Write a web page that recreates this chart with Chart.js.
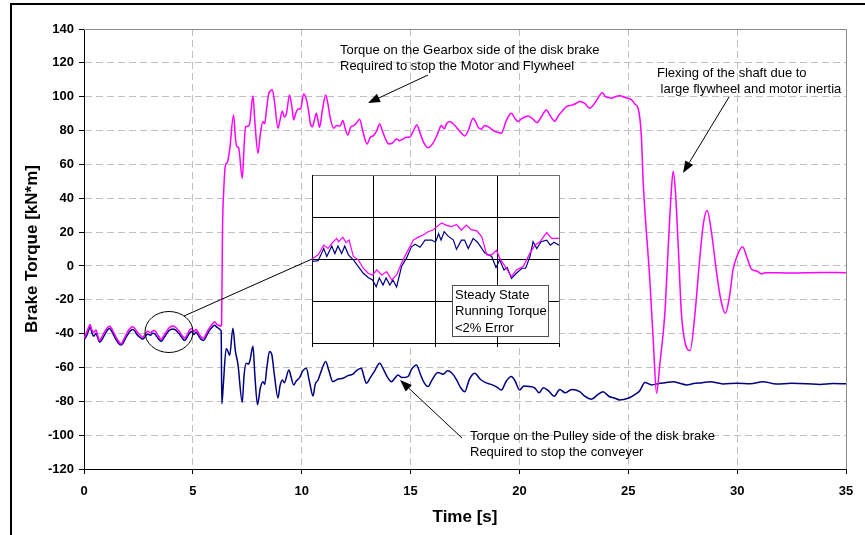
<!DOCTYPE html>
<html>
<head>
<meta charset="utf-8">
<title>Brake Torque</title>
<script src="https://cdn.jsdelivr.net/npm/chart.js@4.4.3/dist/chart.umd.min.js"></script>
<style>
  html, body { margin: 0; padding: 0; background: #fff; }
  #wrap { position: relative; width: 865px; height: 535px; overflow: hidden; }
  #wrap canvas { position: absolute; left: 0; top: 0; }
</style>
</head>
<body>
<div id="wrap">
  <canvas id="main" width="865" height="535"></canvas>
  <canvas id="inset" width="865" height="535"></canvas>
</div>
<script>
  const FONT = "Arial, 'Liberation Sans', sans-serif";
  const MAGENTA = "#ff00ff";
  const NAVY = "#000080";

  /* ── Brake test traces (time in s, torque in kN*m) ───────────────────── */
  const gearboxTime = [
    0, 0.1, 0.2, 0.28, 0.35, 0.45, 0.55, 0.62, 0.71, 0.8,
    0.9, 1.0, 1.08, 1.17, 1.27, 1.37, 1.47, 1.57, 1.71, 1.8,
    1.9, 2.0, 2.1, 2.24, 2.35, 2.45, 2.55, 2.7, 2.8, 2.93,
    3.05, 3.15, 3.24, 3.35, 3.45, 3.55, 3.65, 3.75, 3.85, 3.95,
    4.08, 4.2, 4.3, 4.4, 4.5, 4.62, 4.72, 4.82, 4.93, 5.05,
    5.15, 5.25, 5.35, 5.49, 5.6, 5.7, 5.8, 5.9, 6.0, 6.1,
    6.2, 6.28,
    6.32, 6.36, 6.42, 6.5, 6.58, 6.69, 6.87, 6.96, 7.02, 7.1,
    7.27, 7.35, 7.42, 7.55, 7.62, 7.76, 7.85, 7.99, 8.1, 8.22,
    8.3, 8.38, 8.49, 8.65, 8.75, 8.91, 9.0, 9.11, 9.2, 9.3,
    9.44, 9.55, 9.63, 9.72, 9.82, 9.95, 10.09, 10.2, 10.3, 10.4,
    10.49, 10.58, 10.67, 10.75, 10.82, 10.95, 11.1, 11.2, 11.3, 11.47,
    11.6, 11.75, 11.89, 12.0, 12.12, 12.25, 12.4, 12.55, 12.66, 12.8,
    13.0, 13.15, 13.3, 13.45, 13.58, 13.7, 13.85, 14.0, 14.19, 14.35,
    14.5, 14.65, 14.81, 14.96, 15.1, 15.29, 15.45, 15.6, 15.8, 16.0,
    16.19, 16.3, 16.41, 16.55, 16.65, 16.8, 16.95, 17.1, 17.3, 17.49,
    17.65, 17.87, 18.0, 18.1, 18.25, 18.4, 18.6, 18.8, 19.0, 19.17,
    19.4, 19.63, 19.8, 19.94, 20.1, 20.4, 20.6, 20.81, 21.0, 21.24,
    21.4, 21.62, 21.8, 22.0, 22.16, 22.4, 22.6, 22.77, 23.0, 23.23,
    23.5, 23.81, 23.95, 24.1, 24.23, 24.4, 24.61, 24.85, 25.07, 25.2,
    25.3, 25.45, 25.55, 25.61, 25.68, 25.76, 25.99, 26.15, 26.3, 26.45,
    26.68, 26.85, 26.98, 27.06, 27.16, 27.3, 27.44, 27.62, 27.84, 28.05,
    28.25, 28.45, 28.62, 28.82, 29.05, 29.25, 29.46, 29.65, 29.81, 30.0,
    30.25, 30.45, 30.66, 30.9, 31.12, 31.3, 32.5, 33.8, 35
  ];
  const gearboxTorque = [
    -42.7, -40, -36.5, -34.6, -37.5, -39.4, -37.8, -40.5, -44.1, -42.5,
    -40, -37.8, -36.5, -35.6, -37, -39.5, -42, -44.2, -46.1, -44,
    -41.5, -39, -37.2, -36, -37.3, -39.2, -40.5, -42.1, -40.5, -38.6,
    -39.5, -38.5, -38.2, -40, -42, -43.3, -41.5, -39.5, -37.5, -36.2,
    -35.5, -36.2, -37.5, -39, -41, -42.7, -41, -38.5, -37, -38.8,
    -37.5, -39.5, -41.5, -42.7, -40.5, -38, -36, -34.2, -33, -34.5,
    -35.2, -35.5,
    -35, 20, 45, 59.7, 61, 68.6, 89.2, 75, 70.5, 70,
    51.8, 70, 82.3, 82.6, 85, 100.5, 85, 66.6, 78, 85.3,
    84, 92, 102, 104, 97, 81.4, 86, 91.6, 88, 90,
    101, 94, 86.3, 90, 92.6, 93, 101.6, 99, 93, 84,
    82.3, 86, 90.2, 86, 81.9, 92, 101, 96, 88, 81.4,
    83, 82.5, 85.9, 81, 77.4, 82, 83, 85, 86.7, 80,
    72.1, 76, 77, 80, 83.9, 80, 75, 72, 72.9, 75,
    74, 75, 76, 76, 79, 83.3, 78, 73, 69.9, 72,
    76.5, 80, 83, 81, 84, 85.3, 84, 82, 79, 76.8,
    80, 87.3, 85, 82, 80.8, 83, 82, 80, 79, 78.4,
    86, 90.2, 87, 85.3, 87, 88.6, 87, 84.7, 88, 92.2,
    89, 85.5, 89, 92, 94.1, 95, 96, 97.1, 96, 93.2,
    97, 102.4, 100, 99.5, 99.1, 100, 100.5, 99.5, 98.8, 97.5,
    95.7, 93.2, 85, 74.5, 50.8, 33.1, -8.3, -45, -75.2, -58,
    -28, 15, 45, 56, 45, 10, -28, -46, -50, -30,
    -0.4, 25, 32.7, 20, -3.4, -20, -28, -18, -2.4, 6,
    11.4, 5, -2, -3, -4.7, -4, -4.2, -3.9, -4
  ];

  const pulleyTime = [
    0, 0.1, 0.2, 0.28, 0.35, 0.45, 0.55, 0.62, 0.71, 0.8,
    0.9, 1.0, 1.08, 1.17, 1.27, 1.37, 1.47, 1.57, 1.71, 1.8,
    1.9, 2.0, 2.1, 2.24, 2.35, 2.45, 2.55, 2.7, 2.8, 2.93,
    3.05, 3.15, 3.24, 3.35, 3.45, 3.55, 3.65, 3.75, 3.85, 3.95,
    4.08, 4.2, 4.3, 4.4, 4.5, 4.62, 4.72, 4.82, 4.93, 5.05,
    5.15, 5.25, 5.35, 5.49, 5.6, 5.7, 5.8, 5.9, 6.0, 6.1,
    6.2, 6.28,
    6.3, 6.33, 6.4, 6.53, 6.6, 6.69, 6.84, 6.95, 7.07, 7.27,
    7.35, 7.45, 7.55, 7.62, 7.76, 7.85, 7.97, 8.1, 8.22, 8.3,
    8.4, 8.52, 8.62, 8.75, 8.91, 9.0, 9.11, 9.2, 9.41, 9.5,
    9.63, 9.75, 9.9, 10.05, 10.21, 10.35, 10.52, 10.62, 10.75, 10.9,
    11.1, 11.25, 11.43, 11.65, 11.89, 12.1, 12.35, 12.5, 12.74, 12.85,
    12.97, 13.15, 13.35, 13.58, 13.75, 13.95, 14.12, 14.3, 14.42, 14.6,
    14.88, 15.05, 15.27, 15.45, 15.62, 15.8, 16.0, 16.26, 16.5, 16.7,
    16.87, 17.1, 17.3, 17.49, 17.7, 17.95, 18.2, 18.45, 18.7, 18.95,
    19.17, 19.4, 19.63, 19.8, 20.01, 20.2, 20.47, 20.7, 20.9, 21.1,
    21.35, 21.6, 21.85, 22.1, 22.4, 22.77, 23.0, 23.31, 23.6, 23.84,
    24.1, 24.35, 24.61, 24.99, 25.3, 25.53, 25.76, 26.07, 26.4, 26.7,
    27.06, 27.4, 27.67, 28.0, 28.4, 28.75, 29.36, 30.0, 30.6, 31.19,
    31.8, 32.5, 33.2, 33.8, 34.4, 35
  ];
  const pulleyTorque = [
    -43.5, -41.8, -38.5, -36, -39, -41.5, -39.8, -42, -45, -44,
    -41.8, -39.5, -37.8, -37, -38.5, -41, -43.5, -45.5, -46.8, -45.5,
    -43, -40.8, -38.8, -37.5, -38.8, -40.8, -42, -43.2, -42, -40.2,
    -41, -39.8, -40, -41.8, -43.5, -44.5, -43, -41, -39, -37.8,
    -37.2, -37.8, -39, -40.5, -42.5, -44, -42.5, -40.2, -38.8, -40.5,
    -39.2, -41, -43, -44, -42, -39.5, -37.5, -36, -35, -36.2,
    -37, -38,
    -38.5, -81.5, -70, -49, -50, -53, -36.8, -50, -58, -80.5,
    -65, -57.5, -58, -56, -47.5, -65, -82, -72, -68.4, -70,
    -60, -50.6, -52, -65, -78, -71, -67.4, -69, -61.5, -65,
    -70.3, -68, -66, -62, -60.5, -68, -76.8, -70, -67.4, -62,
    -56.5, -62, -68.4, -67, -66.4, -65, -64, -62, -60.5, -65,
    -69.3, -66, -62, -57.5, -61, -66, -68.4, -66, -64.4, -66,
    -65.4, -61, -58.5, -64, -69, -71.3, -67, -63, -64, -62,
    -63, -67, -72, -74.3, -67, -63.4, -67, -69, -70, -71.5,
    -73.3, -68, -65.4, -68, -73.3, -71, -71.3, -72, -75, -72,
    -74, -77, -73, -75, -73, -74.3, -77, -78.8, -76, -74.3,
    -77, -78, -79.2, -78.2, -76, -73.7, -68.9, -70.3, -69.5, -69,
    -68.4, -69.5, -70.3, -69.5, -69, -68.4, -69.7, -69.3, -69.6, -68.4,
    -69.8, -69.4, -69.6, -70, -69.5, -69.6
  ];

  const timeTicks = [0, 5, 10, 15, 20, 25, 30, 35];
  const torqueTicks = [-120, -100, -80, -60, -40, -20, 0, 20, 40, 60, 80, 100, 120, 140];

  /* ── Close-up of the steady-state section (grid units) ───────────────── */
  const insetGearboxX = [
    0, 0.1, 0.19, 0.26, 0.32, 0.4, 0.43, 0.5, 0.55, 0.6,
    0.67, 0.75, 0.83, 0.91, 0.98, 1.05, 1.13, 1.21, 1.29, 1.37,
    1.45, 1.53, 1.64, 1.72, 1.8, 1.88, 1.96, 2.02, 2.1, 2.18,
    2.26, 2.34, 2.42, 2.5, 2.58, 2.67, 2.75, 2.83, 2.91, 2.99,
    3.04, 3.13, 3.23, 3.31, 3.42, 3.53, 3.61, 3.69, 3.8, 3.88, 4.0
  ];
  const insetGearboxY = [
    0, 0.1, 0.33, 0.25, 0.37, 0.49, 0.41, 0.52, 0.39, 0.45,
    0.06, -0.02, -0.22, -0.34, -0.38, -0.26, -0.38, -0.3, -0.5, -0.38,
    -0.1, 0.14, 0.45, 0.52, 0.57, 0.65, 0.69, 0.77, 0.86, 0.8,
    0.77, 0.82, 0.69, 0.81, 0.7, 0.67, 0.53, 0.1, 0.1, 0.21,
    0.02, -0.18, -0.42, -0.26, -0.18, 0.14, 0.33, 0.41, 0.63, 0.49, 0.49
  ];
  const insetPulleyX = [
    0, 0.1, 0.19, 0.24, 0.32, 0.37, 0.42, 0.48, 0.53, 0.59,
    0.67, 0.75, 0.83, 0.91, 0.98, 1.04, 1.09, 1.15, 1.2, 1.26,
    1.31, 1.37, 1.45, 1.53, 1.61, 1.67, 1.75, 1.83, 1.94, 2.0,
    2.05, 2.09, 2.14, 2.2, 2.29, 2.34, 2.42, 2.47, 2.53, 2.61,
    2.68, 2.8, 2.91, 2.98, 3.04, 3.11, 3.16, 3.23, 3.31, 3.4,
    3.46, 3.53, 3.58, 3.64, 3.71, 3.8, 3.86, 3.92, 4.0
  ];
  const insetPulleyY = [
    -0.06, -0.04, 0.25, 0.06, 0.31, 0.13, 0.31, 0.13, 0.31, 0.1,
    -0.02, -0.18, -0.34, -0.44, -0.5, -0.66, -0.45, -0.62, -0.45, -0.62,
    -0.5, -0.67, -0.18, 0.02, 0.29, 0.35, 0.28, 0.45, 0.45, 0.4,
    0.6, 0.45, 0.65, 0.55, 0.45, 0.23, 0.45, 0.45, 0.25, 0.49,
    0.4, 0.14, 0.06, -0.2, -0.02, -0.26, -0.2, -0.46, -0.34, -0.22,
    -0.22, 0.06, 0.41, 0.25, 0.41, 0.45, 0.33, 0.4, 0.33
  ];
  const insetCols = [0, 1, 2, 3, 4];
  const insetRows = [-2, -1, 0, 1, 2];

  /* ── Callouts drawn over the plot ────────────────────────────────────── */
  const notes = [
    { lines: ["Torque on the Gearbox side of the disk brake",
              "Required to stop the Motor and Flywheel"], x: 340, y: 50,
      arrow: [428, 75, 368, 103] },
    { lines: ["Flexing of the shaft due to",
              " large flywheel and motor inertia"], x: 657, y: 73,
      arrow: [729, 97, 683, 173] },
    { lines: ["Torque on the Pulley side of the disk brake",
              "Required to stop the conveyer"], x: 470, y: 436,
      arrow: [462, 438, 400, 380] }
  ];
  const boxLines = ["Steady State", "Running Torque", "<2% Error"];

  const points = (xs, ys) => xs.map((x, i) => ({ x, y: ys[i] }));

  function drawArrow(ctx, x1, y1, x2, y2) {
    const ang = Math.atan2(y2 - y1, x2 - x1);
    const len = 12, half = 4.5;
    const bx = x2 - len * Math.cos(ang);
    const by = y2 - len * Math.sin(ang);
    ctx.beginPath();
    ctx.moveTo(x1, y1);
    ctx.lineTo(bx, by);
    ctx.stroke();
    ctx.beginPath();
    ctx.moveTo(x2, y2);
    ctx.lineTo(bx + half * Math.sin(ang), by - half * Math.cos(ang));
    ctx.lineTo(bx - half * Math.sin(ang), by + half * Math.cos(ang));
    ctx.closePath();
    ctx.fill();
  }

  const mainDecor = {
    id: "mainDecor",
    beforeDraw(chart) {
      const ctx = chart.ctx;
      ctx.save();
      ctx.fillStyle = "#fff";
      ctx.fillRect(0, 0, chart.width, chart.height);
      // outer frame (open to the right and bottom)
      ctx.fillStyle = "#000";
      ctx.fillRect(10, 3, chart.width - 10, 2);
      ctx.fillRect(10, 3, 2, chart.height - 3);
      ctx.restore();
    },
    beforeDatasetsDraw(chart) {
      const { ctx, chartArea: a } = chart;
      ctx.save();
      ctx.strokeStyle = "#8a8a8a";
      ctx.lineWidth = 1;
      ctx.beginPath();
      ctx.moveTo(a.left, a.top + 0.5);
      ctx.lineTo(a.right + 0.5, a.top + 0.5);
      ctx.lineTo(a.right + 0.5, a.bottom);
      ctx.stroke();
      ctx.restore();
    },
    afterDraw(chart) {
      const ctx = chart.ctx;
      ctx.save();
      ctx.strokeStyle = "#000";
      ctx.fillStyle = "#000";
      ctx.lineWidth = 1;
      ctx.font = "13px " + FONT;
      ctx.textBaseline = "middle";
      notes.forEach((n) => {
        n.lines.forEach((t, i) => ctx.fillText(t, n.x, n.y + i * 16.7));
        drawArrow(ctx, ...n.arrow);
      });
      // ring around the steady-state section and its leader to the close-up
      ctx.beginPath();
      ctx.ellipse(169, 332, 24, 20.5, 0, 0, Math.PI * 2);
      ctx.stroke();
      ctx.beginPath();
      ctx.moveTo(184, 316);
      ctx.lineTo(312, 259);
      ctx.stroke();
      ctx.restore();
    }
  };

  new Chart(document.getElementById("main"), {
    type: "line",
    data: {
      datasets: [
        { label: "Gearbox side", data: points(gearboxTime, gearboxTorque),
          borderColor: MAGENTA, borderWidth: 1.5, cubicInterpolationMode: "monotone" },
        { label: "Pulley side", data: points(pulleyTime, pulleyTorque),
          borderColor: NAVY, borderWidth: 1.5, cubicInterpolationMode: "monotone" }
      ]
    },
    options: {
      responsive: false,
      animation: false,
      events: [],
      layout: { padding: { left: 0, top: 29, right: 19, bottom: 0 } },
      elements: { point: { radius: 0 } },
      plugins: { legend: { display: false }, tooltip: { enabled: false } },
      scales: {
        x: {
          type: "linear", min: 0, max: 35,
          afterBuildTicks: (s) => { s.ticks = timeTicks.map((v) => ({ value: v })); },
          afterFit: (s) => { s.height = 66; },
          ticks: { color: "#000", padding: 10, maxRotation: 0,
                   font: { family: FONT, size: 13, weight: "bold" } },
          grid: { color: "#c0c0c0", tickColor: "#000", tickLength: 5, tickBorderDash: [1, 0] },
          border: { color: "#000", dash: [7, 4] },
          title: { display: true, text: "Time [s]", color: "#000",
                   font: { family: FONT, size: 17, weight: "bold" },
                   padding: { top: 0, bottom: 7 } }
        },
        y: {
          type: "linear", min: -120, max: 140,
          afterBuildTicks: (s) => { s.ticks = torqueTicks.map((v) => ({ value: v })); },
          afterFit: (s) => { s.width = 84; },
          ticks: { color: "#000", padding: 5,
                   font: { family: FONT, size: 13, weight: "bold" } },
          grid: { color: "#c0c0c0", tickColor: "#000", tickLength: 5, tickBorderDash: [1, 0] },
          border: { color: "#000", dash: [7, 4] },
          title: { display: true, text: "Brake Torque [kN*m]", color: "#000",
                   font: { family: FONT, size: 17, weight: "bold" },
                   padding: { top: 22, bottom: 0 } }
        }
      }
    },
    plugins: [mainDecor]
  });

  /* ── Close-up panel ──────────────────────────────────────────────────── */
  const insetDecor = {
    id: "insetDecor",
    beforeDraw(chart) {
      const { ctx, chartArea: a } = chart;
      ctx.save();
      ctx.fillStyle = "#fff";
      ctx.fillRect(a.left, a.top, a.right - a.left, a.bottom - a.top);
      ctx.restore();
    },
    afterDraw(chart) {
      const ctx = chart.ctx;
      ctx.save();
      ctx.fillStyle = "#fff";
      ctx.fillRect(452, 285, 97, 52);
      ctx.strokeStyle = "#505050";
      ctx.lineWidth = 1;
      ctx.strokeRect(452.5, 285.5, 96, 51);
      ctx.fillStyle = "#000";
      ctx.font = "13px " + FONT;
      ctx.textBaseline = "middle";
      boxLines.forEach((t, i) => ctx.fillText(t, 455, 295 + i * 16.7));
      ctx.restore();
    }
  };

  const edgeColor = (last) => (c) => (c.tick && c.tick.value === last ? "#707070" : "#000");

  new Chart(document.getElementById("inset"), {
    type: "line",
    data: {
      datasets: [
        { data: points(insetGearboxX, insetGearboxY), borderColor: MAGENTA, borderWidth: 1.2 },
        { data: points(insetPulleyX, insetPulleyY), borderColor: NAVY, borderWidth: 1.2 }
      ]
    },
    options: {
      responsive: false,
      animation: false,
      events: [],
      layout: { padding: { left: 312, top: 175, right: 306, bottom: 188 } },
      elements: { point: { radius: 0 }, line: { tension: 0 } },
      plugins: { legend: { display: false }, tooltip: { enabled: false } },
      scales: {
        x: {
          type: "linear", min: 0, max: 4,
          afterBuildTicks: (s) => { s.ticks = insetCols.map((v) => ({ value: v })); },
          afterFit: (s) => { s.height = 4; },
          ticks: { display: false },
          grid: { color: edgeColor(4), tickColor: "#000", tickLength: 4 },
          border: { color: "#000" }
        },
        y: {
          type: "linear", min: -2, max: 2,
          afterBuildTicks: (s) => { s.ticks = insetRows.map((v) => ({ value: v })); },
          afterFit: (s) => { s.width = 0; },
          ticks: { display: false },
          grid: { color: edgeColor(2), drawTicks: false },
          border: { color: "#000" }
        }
      }
    },
    plugins: [insetDecor]
  });
</script>
</body>
</html>
